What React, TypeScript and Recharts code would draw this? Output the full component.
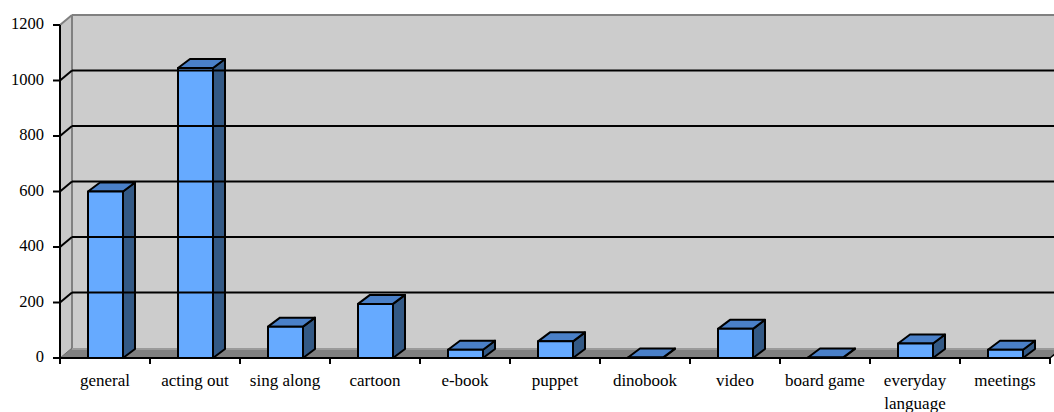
import { BarChart, Bar, XAxis, YAxis, ReferenceArea, ReferenceLine, Text } from "recharts";

const categories = [
  "general",
  "acting out",
  "sing along",
  "cartoon",
  "e-book",
  "puppet",
  "dinobook",
  "video",
  "board game",
  "everyday language",
  "meetings",
];
const counts = [600, 1045, 113, 195, 30, 60, 2, 105, 2, 52, 30];
const yTicks = [0, 200, 400, 600, 800, 1000, 1200];
const gridValues = [200, 400, 600, 800, 1000];

const data = categories.map((name, i) => ({ name, value: counts[i] }));

// depth offsets for the fake 3D look
const WALL_DX = 12;
const WALL_DY = 10;
const BAR_DX = 12;
const BAR_DY = 9;

const FONT = "Liberation Serif, Times New Roman, DejaVu Serif, serif";

function Walls(props: any) {
  const { x, y, width, height } = props;
  const L = x;
  const R = x + width;
  const T = y;
  const B = y + height;
  const n = categories.length;
  const marks = [];
  for (let i = 0; i <= n; i++) {
    const tx = L + (width * i) / n;
    marks.push(<line key={i} x1={tx} y1={B} x2={tx} y2={B + 6} stroke="#000" strokeWidth={2} />);
  }
  return (
    <g>
      {/* side wall */}
      <polygon
        points={`${L},${T} ${L + WALL_DX},${T - WALL_DY} ${L + WALL_DX},${B - WALL_DY} ${L},${B}`}
        fill="#c8c8c8"
      />
      {/* back wall */}
      <rect x={L + WALL_DX} y={T - WALL_DY} width={width + 20} height={height} fill="#cccccc" />
      {/* floor */}
      <polygon
        points={`${L},${B} ${L + WALL_DX},${B - WALL_DY} ${R + WALL_DX},${B - WALL_DY} ${R},${B}`}
        fill="#808080"
      />
      <line x1={L + WALL_DX} y1={B - WALL_DY + 1} x2={R + WALL_DX} y2={B - WALL_DY + 1} stroke="#9a9a9a" strokeWidth={2} />
      <line x1={L + WALL_DX} y1={T - WALL_DY} x2={R + 30} y2={T - WALL_DY} stroke="#808080" strokeWidth={2} />
      <line x1={L} y1={T} x2={L + WALL_DX} y2={T - WALL_DY} stroke="#808080" strokeWidth={2} />
      <line x1={L + WALL_DX} y1={T - WALL_DY} x2={L + WALL_DX} y2={B - WALL_DY} stroke="#808080" strokeWidth={2} />
      <line x1={L} y1={B} x2={L + WALL_DX} y2={B - WALL_DY} stroke="#6a6a6a" strokeWidth={1} />
      <line x1={R} y1={B} x2={R + WALL_DX} y2={B - WALL_DY} stroke="#000" strokeWidth={1.5} />
      {marks}
    </g>
  );
}

// gridline: short diagonal across the side wall, then along the back wall
function WallGridLine(props: any) {
  const { x1, x2, y1 } = props;
  if (x1 == null || y1 == null) return <g />;
  return (
    <g>
      <line x1={x1} y1={y1} x2={x1 + WALL_DX} y2={y1 - WALL_DY} stroke="#000" strokeWidth={2} />
      <line x1={x1 + WALL_DX} y1={y1 - WALL_DY} x2={x2 + 30} y2={y1 - WALL_DY} stroke="#000" strokeWidth={2} />
    </g>
  );
}

function Bar3D(props: any) {
  const { x, y, width: w, height: h } = props;
  if (x == null || y == null) return null;
  return (
    <g stroke="#000" strokeWidth={2} strokeLinejoin="round">
      <polygon
        points={`${x + w},${y} ${x + w + BAR_DX},${y - BAR_DY} ${x + w + BAR_DX},${y + h - BAR_DY} ${x + w},${y + h}`}
        fill="#335985"
      />
      <polygon
        points={`${x},${y} ${x + BAR_DX},${y - BAR_DY} ${x + w + BAR_DX},${y - BAR_DY} ${x + w},${y}`}
        fill="#4a80c8"
      />
      <rect x={x} y={y} width={w} height={Math.max(h, 0)} fill="#66aaff" />
    </g>
  );
}

function CategoryTick(props: any) {
  const { x, y, payload } = props;
  return (
    <Text
      x={x}
      y={y + 16}
      width={84}
      textAnchor="middle"
      verticalAnchor="start"
      lineHeight={23}
      fontSize={17}
      fontFamily={FONT}
      style={{ fontFamily: FONT }}
      fill="#000"
    >
      {payload.value}
    </Text>
  );
}

function ValueTick(props: any) {
  const { x, y, payload } = props;
  return (
    <text
      x={x}
      y={y}
      dy={4}
      textAnchor="end"
      fontSize={16.5}
      fill="#000"
      style={{ fontFamily: FONT }}
    >
      {payload.value}
    </text>
  );
}

export default function App() {
  return (
    <div style={{ position: "absolute", left: 0, top: 0, background: "#fff", fontFamily: FONT }}>
      <BarChart
        width={1054}
        height={412}
        data={data}
        margin={{ top: 25, right: 4, bottom: 4, left: 0 }}
        barSize={35}
      >
        <ReferenceArea y1={0} y2={1200} shape={<Walls />} ifOverflow="visible" />
        {gridValues.map((v) => (
          <ReferenceLine key={v} y={v} shape={(p: any) => <WallGridLine {...p} />} ifOverflow="visible" />
        ))}
        <XAxis
          dataKey="name"
          interval={0}
          height={50}
          tickLine={false}
          tickSize={0}
          tickMargin={0}
          axisLine={{ stroke: "#000", strokeWidth: 2 }}
          tick={<CategoryTick />}
        />
        <YAxis
          domain={[0, 1200]}
          ticks={yTicks}
          width={60}
          tickSize={7}
          tickMargin={9}
          axisLine={{ stroke: "#000", strokeWidth: 2 }}
          tickLine={{ stroke: "#000", strokeWidth: 2 }}
          tick={<ValueTick />}
        />
        <Bar dataKey="value" shape={<Bar3D />} isAnimationActive={false} />
      </BarChart>
    </div>
  );
}
